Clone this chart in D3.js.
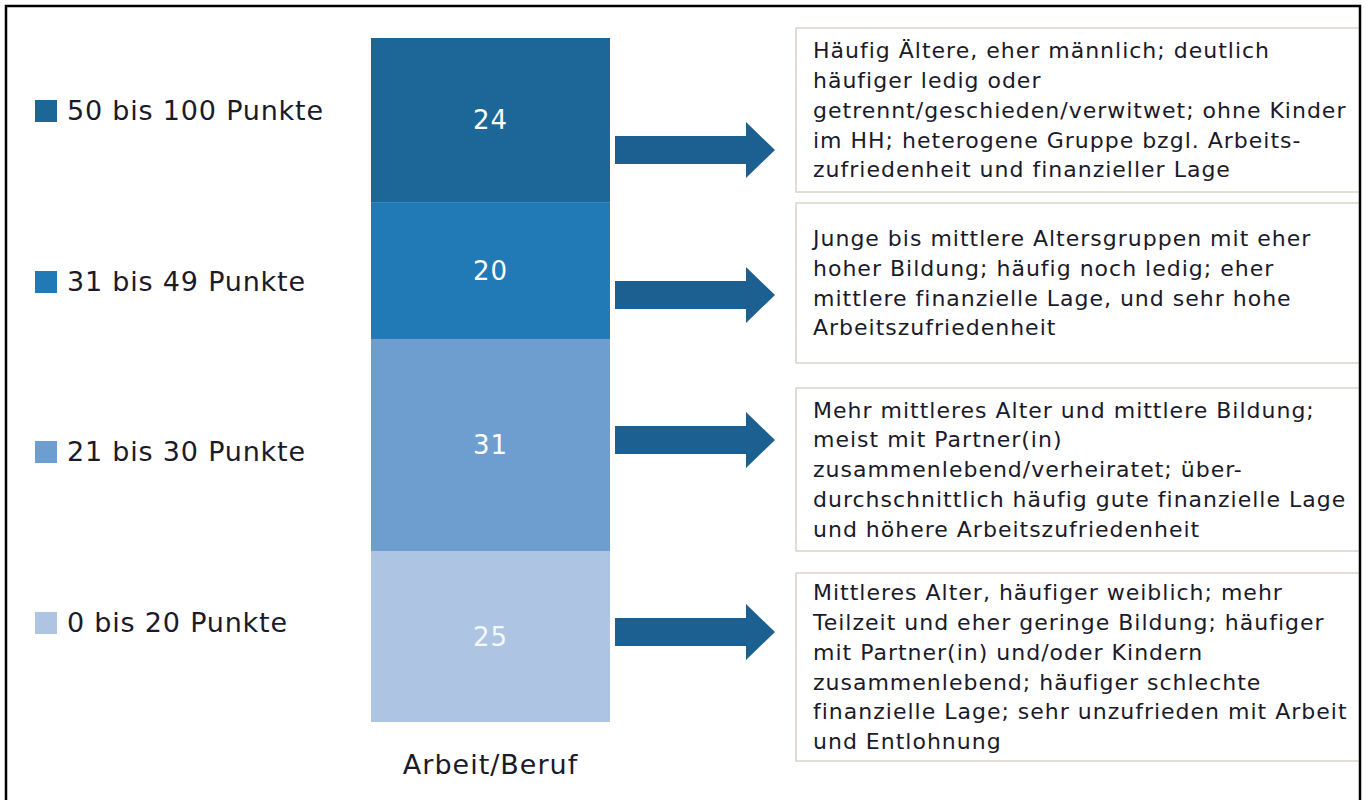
<!DOCTYPE html>
<html>
<head>
<meta charset="utf-8">
<script src="https://cdn.jsdelivr.net/npm/d3@7"></script>
<style>
  body { margin: 0; background: #fff; }
  text { font-family: "DejaVu Sans", sans-serif; }
</style>
</head>
<body>
<div id="chart"></div>
<script>
// data, bottom to top
const groups = ["0 bis 20 Punkte", "21 bis 30 Punkte", "31 bis 49 Punkte", "50 bis 100 Punkte"]
const shares = [25, 31, 20, 24]
const colours = ["#adc4e2", "#6e9ecf", "#2179b6", "#1c6698"]
const category = "Arbeit/Beruf"

const descriptions = [
  ["Mittleres Alter, häufiger weiblich; mehr",
   "Teilzeit und eher geringe Bildung; häufiger",
   "mit Partner(in) und/oder Kindern",
   "zusammenlebend; häufiger schlechte",
   "finanzielle Lage; sehr unzufrieden mit Arbeit",
   "und Entlohnung"],
  ["Mehr mittleres Alter und mittlere Bildung;",
   "meist mit Partner(in)",
   "zusammenlebend/verheiratet; über-",
   "durchschnittlich häufig gute finanzielle Lage",
   "und höhere Arbeitszufriedenheit"],
  ["Junge bis mittlere Altersgruppen mit eher",
   "hoher Bildung; häufig noch ledig; eher",
   "mittlere finanzielle Lage, und sehr hohe",
   "Arbeitszufriedenheit"],
  ["Häufig Ältere, eher männlich; deutlich",
   "häufiger ledig oder",
   "getrennt/geschieden/verwitwet; ohne Kinder",
   "im HH; heterogene Gruppe bzgl. Arbeits-",
   "zufriedenheit und finanzieller Lage"]
]

// layout
const width = 1366, height = 800
const barX = 371, barW = 239
const boxX = 796, boxW = 564
const boxes = [[573, 761], [388, 551], [203, 363], [28, 192]]   // top, bottom
const arrowY = [632, 440, 295, 150]
const legendY = [623, 452, 282, 111]
const lineH = 29.8

const svg = d3.select("#chart").append("svg")
  .attr("width", width)
  .attr("height", height)

const y = d3.scaleLinear().domain([0, 100]).range([722, 38])

let acc = 0
const segs = shares.map((v, i) => {
  const s = {i: i, v: v, y0: acc, y1: acc + v}
  acc += v
  return s
})

// bar segments
svg.append("g").selectAll("rect")
  .data(segs)
  .enter()
  .append("rect")
  .attr("x", barX)
  .attr("width", barW)
  .attr("y", d => y(d.y1))
  .attr("height", d => y(d.y0) - y(d.y1))
  .attr("fill", d => colours[d.i])

svg.append("g").selectAll("text")
  .data(segs)
  .enter()
  .append("text")
  .attr("x", barX + barW / 2)
  .attr("y", d => (y(d.y0) + y(d.y1)) / 2)
  .attr("dy", "0.35em")
  .attr("text-anchor", "middle")
  .attr("font-size", 26)
  .attr("letter-spacing", 1)
  .attr("fill", (d, i) => i == 0 ? "#f4f7fb" : "#fff")
  .text(d => d.v)

svg.append("text")
  .attr("x", barX + barW / 2)
  .attr("y", 774)
  .attr("text-anchor", "middle")
  .attr("font-size", 27)
  .attr("letter-spacing", 1)
  .attr("fill", "#1a1a2a")
  .text(category)

// legend
const leg = svg.append("g").selectAll("g")
  .data(groups)
  .enter()
  .append("g")
  .attr("transform", (d, i) => "translate(35," + legendY[i] + ")")

leg.append("rect")
  .attr("y", -11)
  .attr("width", 22)
  .attr("height", 22)
  .attr("fill", (d, i) => colours[i])

leg.append("text")
  .attr("x", 32)
  .attr("dy", "0.35em")
  .attr("font-size", 27)
  .attr("letter-spacing", 0.8)
  .attr("fill", "#1a1a2a")
  .text(d => d)

// arrows
const arrow = d3.line()
svg.append("g").selectAll("path")
  .data(arrowY)
  .enter()
  .append("path")
  .attr("d", cy => arrow([
    [615, cy - 14], [746, cy - 14], [746, cy - 28], [775, cy],
    [746, cy + 28], [746, cy + 14], [615, cy + 14]
  ]) + "Z")
  .attr("fill", "#1c6091")

// description boxes
const bx = svg.append("g").selectAll("g")
  .data(descriptions)
  .enter()
  .append("g")

bx.append("rect")
  .attr("x", boxX)
  .attr("y", (d, i) => boxes[i][0])
  .attr("width", boxW)
  .attr("height", (d, i) => boxes[i][1] - boxes[i][0])
  .attr("fill", "#fff")
  .attr("stroke", "#d9d4c9")
  .attr("stroke-width", 1.5)

bx.each(function(lines, i) {
  const n = lines.length
  const mid = (boxes[i][0] + boxes[i][1]) / 2
  const top = mid - (n - 1) * lineH / 2
  d3.select(this).selectAll("text")
    .data(lines)
    .enter()
    .append("text")
    .attr("x", 813)
    .attr("y", (d, j) => top + j * lineH)
    .attr("dy", "0.35em")
    .attr("font-size", 22)
    .attr("letter-spacing", 1)
    .attr("fill", "#1a1a2a")
    .text(d => d)
})

// outer frame
svg.append("rect")
  .attr("x", 6)
  .attr("y", 6)
  .attr("width", 1354)
  .attr("height", 820)
  .attr("fill", "none")
  .attr("stroke", "#000")
  .attr("stroke-width", 2.5)
</script>
</body>
</html>
